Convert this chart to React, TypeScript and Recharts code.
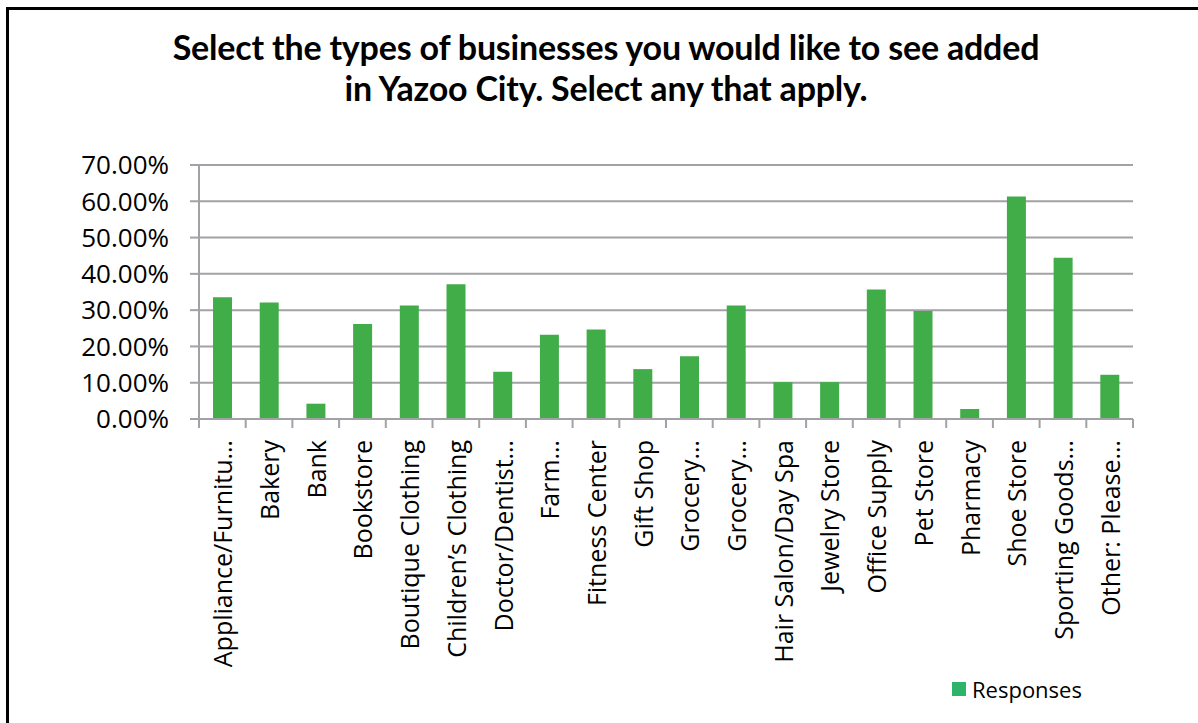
import React from "react";
import {
  BarChart,
  Bar,
  XAxis,
  YAxis,
  CartesianGrid,
  Legend,
} from "recharts";

// categories as shown on the axis (Excel truncated the long ones)
const categories = [
  "Appliance/Furnitu…",
  "Bakery",
  "Bank",
  "Bookstore",
  "Boutique Clothing",
  "Children’s Clothing",
  "Doctor/Dentist…",
  "Farm…",
  "Fitness Center",
  "Gift Shop",
  "Grocery…",
  "Grocery…",
  "Hair Salon/Day Spa",
  "Jewelry Store",
  "Office Supply",
  "Pet Store",
  "Pharmacy",
  "Shoe Store",
  "Sporting Goods…",
  "Other: Please…",
];

const responses = [
  33.55, 32.08, 4.22, 26.2, 31.26, 37.12, 13.02, 23.19, 24.66, 13.75, 17.32,
  31.26, 10.17, 10.17, 35.66, 29.79, 2.75, 61.32, 44.45, 12.19,
];

const yTicks = [0, 10, 20, 30, 40, 50, 60, 70];

const data = categories.map((name, i) => ({ key: `${i}`, name, value: responses[i] }));

const GRID = "#A2A2A6";
const BAR = "#41AD49";
const SWATCH = "#2DB46A";
const FONT = "'Open Sans', sans-serif";

const PLOT_LEFT = 199;
const PLOT_RIGHT = 1133;
const BAND = (PLOT_RIGHT - PLOT_LEFT) / categories.length;

const XTick = (props: any) => {
  const { x, y, payload, index } = props;
  const axisY = y - 21;
  const label = categories[Number(payload.value)];
  return (
    <g>
      <line x1={x - BAND / 2} x2={x - BAND / 2} y1={axisY} y2={axisY + 9} stroke={GRID} strokeWidth={2} />
      {index === categories.length - 1 && (
        <line x1={x + BAND / 2} x2={x + BAND / 2} y1={axisY} y2={axisY + 9} stroke={GRID} strokeWidth={2} />
      )}
      <text
        transform={`translate(${x},${y}) rotate(-90)`}
        textAnchor="end"
        dominantBaseline="central"
        fontFamily={FONT}
        fontSize={25}
        fill="#000"
      >
        {label}
      </text>
    </g>
  );
};

const LegendContent = () => (
  <div style={{ display: "flex", alignItems: "center", fontFamily: FONT, fontSize: 22, color: "#000" }}>
    <span style={{ width: 14, height: 14, background: SWATCH, display: "inline-block", marginRight: 6 }} />
    <span>Responses</span>
  </div>
);

export default function App() {
  return (
    <div style={{ position: "absolute", left: 0, top: 0, width: 1198, height: 723, background: "#fff", overflow: "hidden" }}>
      <div
        style={{
          position: "absolute",
          left: 6,
          top: 7,
          width: 1300,
          height: 800,
          borderLeft: "3px solid #000",
          borderTop: "3px solid #000",
        }}
      />
      <div
        style={{
          position: "absolute",
          left: 106,
          top: 26,
          width: 1000,
          textAlign: "center",
          fontFamily: "Lato, sans-serif",
          fontWeight: 700,
          fontSize: 34,
          lineHeight: "41px",
          letterSpacing: -0.2,
          color: "#000",
        }}
      >
        Select the types of businesses you would like to see added
        <br />
        in Yazoo City. Select any that apply.
      </div>
      <div style={{ position: "absolute", left: 0, top: 0 }}>
        <BarChart
          width={1198}
          height={723}
          data={data}
          margin={{ top: 165, right: 1198 - PLOT_RIGHT, bottom: 0, left: 0 }}
          barCategoryGap="30%"
        >
          <CartesianGrid vertical={false} stroke={GRID} strokeWidth={2} />
          <XAxis
            dataKey="key"
            interval={0}
            height={304}
            axisLine={{ stroke: GRID, strokeWidth: 2 }}
            tickLine={false}
            tickSize={10}
            tickMargin={11}
            tick={<XTick />}
          />
          <YAxis
            width={PLOT_LEFT}
            domain={[0, 70]}
            ticks={yTicks}
            interval={0}
            tickFormatter={(v: number) => `${v.toFixed(2)}%`}
            axisLine={{ stroke: GRID, strokeWidth: 2 }}
            tickLine={{ stroke: GRID, strokeWidth: 2 }}
            tickSize={9}
            tickMargin={21}
            tick={{ fontFamily: FONT, fontSize: 26, fill: "#000" }}
          />
          <Legend
            layout="horizontal"
            verticalAlign="middle"
            align="center"
            content={<LegendContent />}
            wrapperStyle={{ left: 952, top: 674, width: 160, right: "auto", bottom: "auto" }}
          />
          <Bar dataKey="value" name="Responses" fill={BAR} isAnimationActive={false} />
        </BarChart>
      </div>
    </div>
  );
}
